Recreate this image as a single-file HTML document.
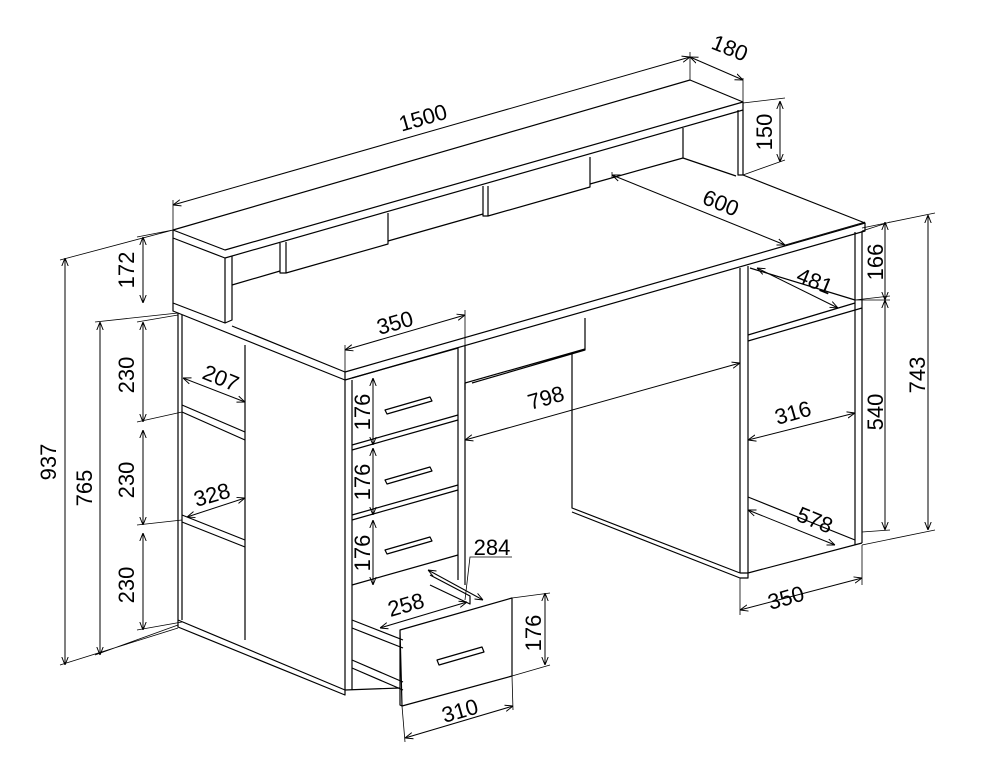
<!DOCTYPE html>
<html><head><meta charset="utf-8"><style>
html,body{margin:0;padding:0;background:#fff;}
svg{display:block}
text{font-family:"Liberation Sans",Arial,sans-serif;font-size:22px;fill:#000;}
</style></head><body>
<svg width="986" height="768" viewBox="0 0 986 768" xmlns="http://www.w3.org/2000/svg">
<defs>
<marker id="a" viewBox="0 0 10 10" refX="10" refY="5" markerWidth="8" markerHeight="8" orient="auto-start-reverse" markerUnits="userSpaceOnUse"><path d="M0,1 L10,5 L0,9" fill="none" stroke="#000" stroke-width="1.2"/></marker>
</defs>
<g fill="none" stroke="#000" stroke-width="1.2" stroke-linejoin="round">
<!-- hutch top -->
<path d="M173,230 L690,80 L743,102 L225,250 Z"/>
<path d="M173,230 L173,238 L225,258 L743,110 L743,102"/>
<path d="M173,238 L173,303 L225,323 L225,258"/>
<path d="M232,256 L232,320 L225,323"/>
<!-- under-hutch boxes -->
<path d="M232,285 L280,271"/>
<path d="M280,243 L280,273 L286,273 L388,244 L388,213 M286,242 L286,273"/>
<path d="M388,241 L483,214"/>
<path d="M483,186 L483,216 L488,216 L590,187 L590,157 M488,186 L488,216"/>
<path d="M590,184 L683,158 L683,128 M683,158 L736,176"/>
<path d="M738,110 L738,175 L743,175 L743,110"/>
<!-- desk top -->
<path d="M232,326 L345,372 L865,223 L743,175"/>
<path d="M345,372 L345,380 L865,231 L865,223"/>
<path d="M173,303 L173,311 L345,380"/>
<!-- left pedestal -->
<path d="M178,313 L178,620 L345,690 L345,695 L178,627 L178,620"/>
<path d="M245,345 L245,640 M182,315 L182,620"/>
<path d="M182,405 L245,432 M182,412 L245,440 M182,515 L245,540 M182,522 L245,547"/>
<!-- drawer pedestal -->
<path d="M345,380 L345,690 M352,380 L352,690"/>
<path d="M458,348 L458,580 M465,346 L465,585"/>
<path d="M352,378 L458,348 M352,445 L458,415 M352,450 L458,420 M352,515 L458,485 M352,520 L458,490 M352,585 L458,555"/>
<path d="M385,410 L430,397 L432,401 L387,414 Z M385,480 L430,467 L432,471 L387,484 Z M385,550 L430,537 L432,541 L387,554 Z"/>
<!-- open drawer -->
<path d="M352,620 L403,640 M352,628 L403,648 M352,660 L403,682 M352,668 L403,690 M430,575 L470,596 L470,604 L430,585"/>
<path d="M400,630 L512,598 L512,676 L402,706 Z M400,630 L400,705 L402,706"/>
<path d="M437,660 L482,647 L484,652 L439,665 Z"/>
<path d="M345,690 L400,688"/>
<!-- middle -->
<path d="M465,383 L585,349 L585,350 M465,383 L465,390 M585,318 L585,350 L472,383"/>
<path d="M572,353 L572,508 L740,573 M572,512 L740,578"/>
<!-- right pedestal -->
<path d="M740,268 L740,573 M748,266 L748,573 L862,543 M740,573 L748,573 L748,578 L740,578"/>
<path d="M855,232 L855,545 M862,231 L862,543"/>
<path d="M748,335 L855,303 M748,341 L862,308 M750,268 L855,300"/>
<path d="M748,497 L855,540"/>
</g>
<g fill="none" stroke="#000" stroke-width="1" marker-start="url(#a)" marker-end="url(#a)">
<path d="M173,205 L690,57"/>
<path d="M690,57 L743,80"/>
<path d="M780,101 L780,162"/>
<path d="M612,175 L785,245"/>
<path d="M143,237 L143,303"/>
<path d="M65,258 L65,665"/>
<path d="M100,322 L100,655"/>
<path d="M143,322 L143,422"/><path d="M143,430 L143,525"/><path d="M143,533 L143,630"/>
<path d="M183,378 L245,402"/>
<path d="M187,517 L245,498"/>
<path d="M345,350 L465,315"/>
<path d="M373,378 L373,445"/><path d="M373,448 L373,515"/><path d="M373,520 L373,585"/>
<path d="M465,440 L740,363"/>
<path d="M885,222 L885,300"/>
<path d="M928,215 L928,530"/>
<path d="M885,300 L885,530"/>
<path d="M757,268 L838,308"/>
<path d="M748,440 L855,413"/>
<path d="M748,510 L835,545"/>
<path d="M740,610 L862,578"/>
<path d="M428,570 L483,600"/>
<path d="M380,628 L467,602"/>
<path d="M545,593 L545,665"/>
<path d="M405,738 L513,706"/>
</g>
<g fill="none" stroke="#000" stroke-width="0.8">
<path d="M173,200 L173,230 M690,52 L690,80 M743,78 L743,102 M743,103 L785,98 M743,175 L785,160 M612,172 L612,178 M785,245 L865,222"/>
<path d="M60,260 L173,230 M137,237 L173,230 M95,322 L178,313 M137,322 L178,315 M137,422 L182,412 M137,525 L182,520 M137,630 L182,622 M60,665 L178,628 M95,655 L178,625"/>
<path d="M345,345 L345,380 M465,310 L465,346 M862,231 L890,222 M855,300 L890,296 M862,545 L935,530 M862,228 L935,213 M855,300 L890,300 M862,532 L890,530"/>
<path d="M740,578 L740,615 M862,545 L862,585"/>
<path d="M512,598 L550,593 M512,676 L550,665 M402,706 L405,742 M512,676 L513,710 M465,600 L470,557 L512,557"/>
</g>
<text x="425" y="125" transform="rotate(-16 425 125)" text-anchor="middle">1500</text>
<text x="727" y="55" transform="rotate(22 727 55)" text-anchor="middle">180</text>
<text x="772" y="132" transform="rotate(-90 772 132)" text-anchor="middle">150</text>
<text x="718" y="210" transform="rotate(22 718 210)" text-anchor="middle">600</text>
<text x="134" y="270" transform="rotate(-90 134 270)" text-anchor="middle">172</text>
<text x="56" y="462" transform="rotate(-90 56 462)" text-anchor="middle">937</text>
<text x="92" y="488" transform="rotate(-90 92 488)" text-anchor="middle">765</text>
<text x="134" y="375" transform="rotate(-90 134 375)" text-anchor="middle">230</text>
<text x="134" y="480" transform="rotate(-90 134 480)" text-anchor="middle">230</text>
<text x="134" y="585" transform="rotate(-90 134 585)" text-anchor="middle">230</text>
<text x="218" y="385" transform="rotate(22 218 385)" text-anchor="middle">207</text>
<text x="214" y="502" transform="rotate(-16 214 502)" text-anchor="middle">328</text>
<text x="397" y="330" transform="rotate(-16 397 330)" text-anchor="middle">350</text>
<text x="370" y="412" transform="rotate(-90 370 412)" text-anchor="middle">176</text>
<text x="370" y="482" transform="rotate(-90 370 482)" text-anchor="middle">176</text>
<text x="370" y="553" transform="rotate(-90 370 553)" text-anchor="middle">176</text>
<text x="548" y="405" transform="rotate(-16 548 405)" text-anchor="middle">798</text>
<text x="883" y="262" transform="rotate(-90 883 262)" text-anchor="middle">166</text>
<text x="925" y="375" transform="rotate(-90 925 375)" text-anchor="middle">743</text>
<text x="883" y="412" transform="rotate(-90 883 412)" text-anchor="middle">540</text>
<text x="812" y="288" transform="rotate(22 812 288)" text-anchor="middle">481</text>
<text x="795" y="420" transform="rotate(-16 795 420)" text-anchor="middle">316</text>
<text x="812" y="527" transform="rotate(22 812 527)" text-anchor="middle">578</text>
<text x="788" y="605" transform="rotate(-16 788 605)" text-anchor="middle">350</text>
<text x="492" y="555" text-anchor="middle">284</text>
<text x="408" y="612" transform="rotate(-16 408 612)" text-anchor="middle">258</text>
<text x="541" y="633" transform="rotate(-90 541 633)" text-anchor="middle">176</text>
<text x="462" y="718" transform="rotate(-16 462 718)" text-anchor="middle">310</text>
</svg>
</body></html>
